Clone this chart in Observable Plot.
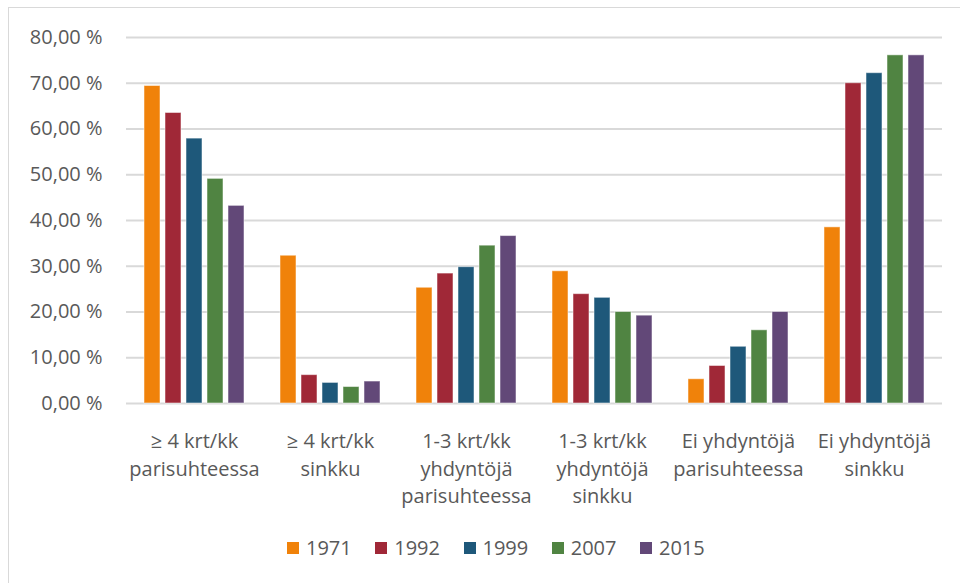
<!DOCTYPE html>
<html><head><meta charset="utf-8">
<script src="https://cdn.jsdelivr.net/npm/d3@7"></script>
<script src="https://cdn.jsdelivr.net/npm/@observablehq/plot@0.6"></script>
<style>
html,body{margin:0;padding:0;background:#fff;overflow:hidden;width:960px;height:583px}
#wrap{position:relative;width:960px;height:583px;font-family:"Open Sans",sans-serif}
#wrap svg{position:absolute;left:0;top:0}
#frame{position:absolute;left:8px;top:7px;width:1100px;height:1100px;border:1px solid #d9d9d9;pointer-events:none}
#legend{position:absolute;left:287px;top:536px;display:flex;align-items:center;font-size:20px;line-height:24px;color:#595959;white-space:nowrap}
#legend .item{display:flex;align-items:center;margin-right:23.5px}
#legend .sw{width:12px;height:12px;margin-right:7px;display:inline-block}
</style>
</head><body>
<div id="wrap"><div id="frame"></div><div id="legend"></div></div>
<script>
const categories = ["c1","c2","c3","c4","c5","c6"];
const categoryLabels = [
  "≥ 4 krt/kk\nparisuhteessa",
  "≥ 4 krt/kk\nsinkku",
  "1-3 krt/kk\nyhdyntöjä\nparisuhteessa",
  "1-3 krt/kk\nyhdyntöjä\nsinkku",
  "Ei yhdyntöjä\nparisuhteessa",
  "Ei yhdyntöjä\nsinkku"
];
const years = ["1971","1992","1999","2007","2015"];
const v1971 = [69.4, 32.3, 25.3, 28.9, 5.3, 38.5];
const v1992 = [63.5, 6.2, 28.4, 23.9, 8.2, 70.0];
const v1999 = [57.9, 4.5, 29.8, 23.1, 12.4, 72.2];
const v2007 = [49.1, 3.6, 34.5, 20.0, 16.0, 76.1];
const v2015 = [43.2, 4.8, 36.6, 19.2, 20.0, 76.1];
const yTicks = [0,10,20,30,40,50,60,70,80];
const colors = ["#F0820A","#A02837","#1E587A","#508442","#624878"];

const series = [v1971, v1992, v1999, v2007, v2015];
const data = categories.flatMap((c,i) => years.map((y,j) => ({cat:c, year:y, value:series[j][i]})));
const labelData = categories.map((c,i) => ({cat:c, label:categoryLabels[i]}));

const chart = Plot.plot({
  width: 960, height: 515,
  marginLeft: 126, marginRight: 18, marginTop: 37, marginBottom: 112,
  style: {fontFamily: "'Open Sans', sans-serif", fontSize: "20px", color: "#595959", background: "transparent", overflow: "visible"},
  fx: {domain: categories, padding: 0, axis: null},
  x: {domain: years, paddingInner: 0.22, paddingOuter: 0.74, axis: null},
  y: {domain: [0, 80], axis: null},
  color: {domain: years, range: colors},
  marks: [
    Plot.ruleY(yTicks, {stroke: "#d9d9d9", strokeWidth: 2}),
    Plot.axisY(yTicks, {tickSize: 0, tickPadding: 24, fontSize: 20, fill: "#595959", label: null,
      tickFormat: d => d.toFixed(2).replace(".", ",") + " %"}),
    Plot.barY(data, {fx: "cat", x: "year", y: "value", fill: "year", stroke: "#fff", strokeOpacity: 0.5, strokeWidth: 1}),
    Plot.text(labelData, {fx: "cat", text: "label", frameAnchor: "bottom", lineAnchor: "top", dy: 25,
      lineHeight: 1.375, fontSize: 20, fill: "#595959"})
  ]
});
document.getElementById("wrap").appendChild(chart);

const legend = document.getElementById("legend");
years.forEach((y,i) => {
  const it = document.createElement("div"); it.className = "item";
  const sw = document.createElement("span"); sw.className = "sw"; sw.style.background = colors[i];
  const tx = document.createElement("span"); tx.textContent = y;
  it.appendChild(sw); it.appendChild(tx); legend.appendChild(it);
});
</script>
</body></html>
